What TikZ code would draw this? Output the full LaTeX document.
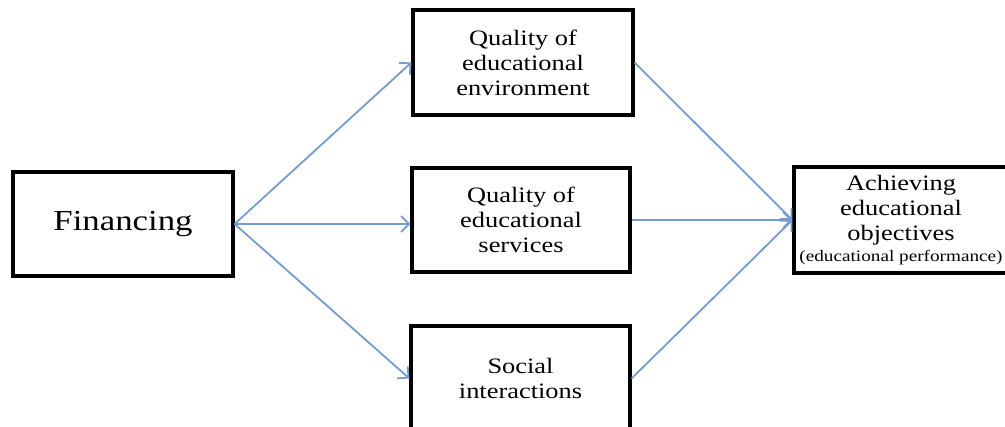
\documentclass[tikz,border=0pt]{standalone}
\usepackage{fontspec}
\setmainfont{Liberation Serif}[FakeStretch=1.2]
\usetikzlibrary{arrows.meta}
\definecolor{linkblue}{RGB}{118,155,206}

\begin{document}
\begin{tikzpicture}[x=1pt,y=1pt]
\tikzstyle{factor}=[rectangle,draw=black,line width=3.2pt,fill=white,align=center,inner sep=0pt,font=\fontsize{22}{25}\selectfont]
\tikzstyle{link}=[draw=linkblue,line width=1.8pt,-{Straight Barb[length=8pt,width=16pt,line width=1.8pt]}]

\useasboundingbox (0,0) rectangle (1005,427);
\clip (0,0) rectangle (1005,427);

\node[factor,minimum width=220pt,minimum height=104pt,font=\fontsize{29}{32}\selectfont] (fin) at (123,203) {Financing};

\node[factor,minimum width=220pt,minimum height=105pt] (env) at (523,364.5) {Quality of\\educational\\environment};
\node[factor,minimum width=218pt,minimum height=104pt] (srv) at (521,207) {Quality of\\educational\\services};
\node[factor,minimum width=219pt,minimum height=105pt] (soc) at (520.5,48.5) {Social\\interactions};

\node[factor,minimum width=214pt,minimum height=106pt] (ach) at (901,207) {Achieving\\educational\\objectives\\[-4pt]{\fontsize{16}{21}\selectfont (educational performance)}};

\draw[link] (fin.east) -- (env.west);
\draw[link] (fin.east) -- (fin.east -| srv.west);
\draw[link] (fin.east) -- (soc.west);

\draw[link] (env.east) -- (ach.west);
\draw[link] (srv.east) -- (ach.west);
\draw[link] (soc.east) -- (ach.west);

\end{tikzpicture}
\end{document}
